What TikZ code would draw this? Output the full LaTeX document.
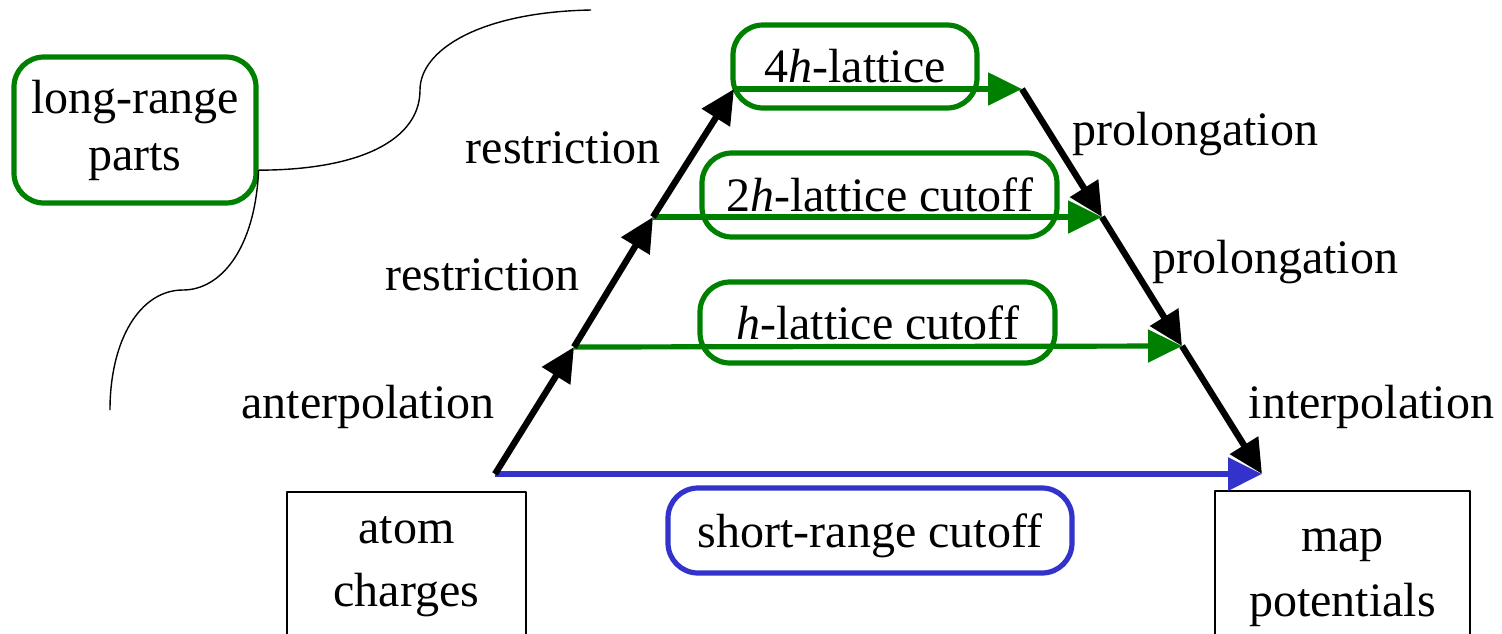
\documentclass[tikz,border=0pt]{standalone}
\usepackage{fontspec}
\setmainfont{Liberation Serif}
\usetikzlibrary{arrows.meta}
\definecolor{lgreen}{RGB}{0,128,0}
\definecolor{sblue}{RGB}{51,51,204}
\tikzset{
  gbox/.style={draw=lgreen, line width=2.6pt, rounded corners=15pt, inner sep=0pt},
  bbox/.style={draw=sblue, line width=2.6pt, rounded corners=15pt, inner sep=0pt, text depth=0pt},
  endbox/.style={draw, line width=0.75pt, anchor=north, align=center, inner xsep=0pt},
  lbl/.style={anchor=base},
}
\begin{document}
\begin{tikzpicture}[>={Triangle[length=17pt,width=16pt]},line join=bevel,x=0.5pt,y=-0.5pt,
  font=\fontsize{24}{29}\selectfont]
  \clip (0,0) rectangle (1502,633);
%%
  % Corners of the scheme
  \coordinate (p0) at (495,474);
  \coordinate (p1) at (574,347);
  \coordinate (p2) at (653,217);
  \coordinate (p3) at (734,89);
  \coordinate (q3) at (1022,89);
  \coordinate (q2) at (1102,217);
  \coordinate (q1) at (1182,346);
  \coordinate (q0) at (1262,474);
  % Node: lrp
  \node[gbox, align=center, minimum width=121pt, minimum height=73pt,
    font=\fontsize{24}{28.5}\selectfont] (lrp) at (135,130) {long-range\\parts};
  % Node: lat4
  \node[gbox, minimum width=122pt, minimum height=41.5pt] (lat4) at (855,66.5) {4\textit{h}-lattice};
  % Node: lat2
  \node[gbox, minimum width=177.5pt, minimum height=42pt] (lat2) at (879.5,195) {2\textit{h}-lattice cutoff};
  % Node: lat1
  \node[gbox, minimum width=177.5pt, minimum height=40.5pt] (lat1) at (877.5,322.5) {\textit{h}-lattice cutoff};
  % Node: short
  \node[bbox, minimum width=202pt, minimum height=42.5pt] (short) at (870,530.5) {short-range cutoff};
  % Node: atoms
  \node[endbox, minimum width=119.5pt, inner ysep=12.5pt,
    font=\fontsize{24}{31.5}\selectfont] (atoms) at (406.5,491) {atom\\charges};
  % Node: pots
  \node[endbox, minimum width=127.5pt, inner ysep=19pt,
    font=\fontsize{24}{32.5}\selectfont] (pots) at (1342.5,490) {map\\potentials};
  % Labels
  \node[lbl] (restr2) at (563,163) {restriction};
  \node[lbl] (restr1) at (482.5,290) {restriction};
  \node[lbl] (anterp) at (368,418) {anterpolation};
  \node[lbl] (prol2) at (1195.5,145) {prolongation};
  \node[lbl] (prol1) at (1275.5,273) {prolongation};
  \node[lbl] (interp) at (1371.5,418) {interpolation};
  % Brace: lrp -> scheme
  \coordinate (lrptop) at (591,10);
  \coordinate (lrpbot) at (110,410);
  \draw[line width=0.7pt] (lrp.-18) .. controls (360,170) and (420,140) .. (420,90)
    .. controls (420,50) and (480,12) .. (lrptop);
  \draw[line width=0.7pt] (lrp.-18) .. controls (255,250) and (220,290) .. (183,290)
    .. controls (140,290) and (110,340) .. (lrpbot);
  % Edge: p0 -> q0 (short range)
  \draw[->, sblue, line width=3pt] (p0) -- (q0);
  % Edges: lattice levels
  \draw[->, lgreen, line width=2.6pt] (p1) -- (q1);
  \draw[->, lgreen, line width=2.6pt] (p2) -- (q2);
  \draw[->, lgreen, line width=2.6pt] (p3) -- (q3);
  % Edges: restriction side
  \draw[->, line width=3.2pt] (p0) -- (p1);
  \draw[->, line width=3.2pt] (p1) -- (p2);
  \draw[->, line width=3.2pt] (p2) -- (p3);
  % Edges: prolongation side
  \draw[->, line width=3.2pt] (q3) -- (q2);
  \draw[->, line width=3.2pt] (q2) -- (q1);
  \draw[->, line width=3.2pt] (q1) -- (q0);
%
\end{tikzpicture}
\end{document}
